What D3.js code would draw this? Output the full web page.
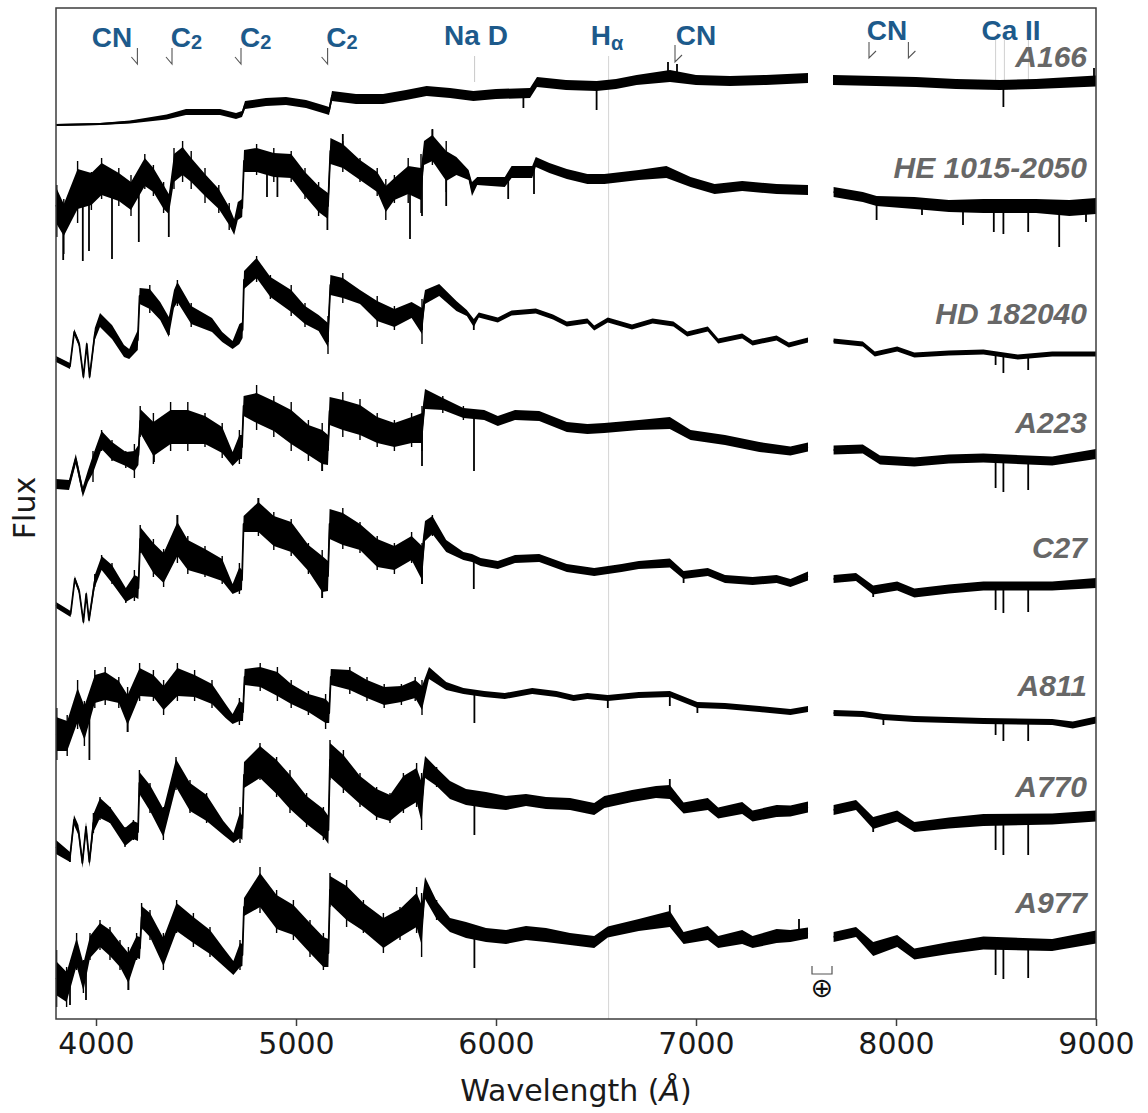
<!DOCTYPE html>
<html><head><meta charset="utf-8">
<script src="https://cdn.jsdelivr.net/npm/d3@7"></script>
<style>body{margin:0;background:#fff}</style>
</head><body><svg id="chart" width="1148" height="1113"></svg>
<script>
// ---------------- DATA ----------------
const xTicks = [4000, 5000, 6000, 7000, 8000, 9000];
const starNames = ["A166", "HE 1015-2050", "HD 182040", "A223", "C27", "A811", "A770", "A977"];
// label baseline, in (flux + offset) units
const starLabelFlux = [95.2, 84.1, 69.5, 58.6, 46.1, 32.3, 22.2, 10.6];

// each spectrum: [wavelength (Å), flux + offset, noise half-width]
const specA166 = [[3800,89.4,0.1],[4020,89.5,0.1],[4170,89.7,0.15],[4353,90.2,0.25],[4450,90.7,0.3],[4620,90.7,0.3],[4700,90.3,0.3],[4730,90.5,0.3],[4745,91.4,0.4],[4850,91.7,0.4],[4950,91.8,0.4],[5050,91.5,0.4],[5150,90.9,0.4],[5165,90.8,0.4],[5180,92.3,0.5],[5300,92.0,0.5],[5435,92.0,0.5],[5550,92.4,0.5],[5653,92.8,0.5],[5770,92.6,0.5],[5887,92.3,0.5],[6000,92.5,0.5],[6170,92.6,0.5],[6205,93.7,0.5],[6350,93.4,0.5],[6503,93.3,0.5],[6600,93.5,0.5],[6703,93.9,0.5],[6870,94.3,0.6],[7000,93.9,0.5],[7170,93.8,0.5],[7350,93.9,0.5],[7560,94.1,0.5],
  [7685,93.9,0.5],[7900,93.8,0.5],[8100,93.7,0.5],[8300,93.5,0.5],[8520,93.4,0.5],[8700,93.5,0.5],[9000,93.8,0.55]];
const specHE = [[3800,81.4,1.8],[3839,79.9,1.6],[3908,83.0,2.0],[3977,83.0,1.6],[4028,84.0,1.6],[4114,83.2,1.4],[4175,82.3,1.4],[4244,84.7,1.4],[4287,83.9,1.2],[4338,82.2,1.2],[4364,81.5,1.0],[4390,85.1,1.4],[4433,85.8,1.4],[4476,84.9,1.2],[4545,83.4,1.1],[4614,82.0,1.0],[4666,80.3,0.9],[4691,79.2,0.8],[4709,80.8,0.9],[4731,81.1,0.9],[4740,85.8,1.1],[4803,85.9,1.2],[4889,85.4,1.2],[4976,85.3,1.2],[5045,83.5,1.2],[5113,82.0,1.3],[5160,81.3,1.3],[5172,86.8,1.3],[5234,86.3,1.2],[5320,84.9,1.0],[5406,83.7,1.0],[5449,82.0,1.3],[5492,83.0,1.1],[5561,83.9,1.4],[5625,83.5,1.6],[5640,86.6,1.2],[5682,87.1,1.3],[5751,85.3,1.5],[5802,85.3,0.9],[5863,84.4,0.5],[5880,83.0,0.7],[5906,83.8,0.4],[6044,83.7,0.5],[6078,84.7,0.6],[6181,84.7,0.6],[6199,85.7,0.5],[6267,85.1,0.5],[6354,84.5,0.5],[6457,84.0,0.5],[6542,84.0,0.5],[6714,84.4,0.5],[6852,84.7,0.6],[6973,83.7,0.5],[7093,83.0,0.5],[7231,83.3,0.5],[7403,83.0,0.5],[7560,82.9,0.5],
  [7688,82.7,0.5],[7834,82.2,0.5],[7903,81.8,0.5],[8092,81.6,0.6],[8265,81.3,0.6],[8437,81.3,0.7],[8700,81.3,0.7],[8867,81.1,0.8],[9000,81.3,0.8]];
const specHD = [[3800,66.0,0.3],[3870,65.3,0.3],[3891,68.7,0.3],[3916,67.5,0.3],[3937,64.2,0.3],[3954,67.5,0.3],[3968,64.2,0.3],[3994,68.5,0.6],[4020,69.9,0.7],[4080,68.7,0.7],[4140,66.8,0.6],[4166,66.5,0.5],[4209,67.9,1.0],[4218,72.3,0.8],[4269,72.0,1.0],[4321,70.8,0.9],[4364,69.2,1.0],[4390,72.0,0.9],[4407,72.7,1.0],[4476,70.4,0.9],[4580,69.4,0.7],[4631,68.2,0.5],[4683,67.4,0.4],[4717,68.5,1.0],[4733,68.9,0.8],[4740,73.9,0.9],[4803,75.1,1.0],[4872,73.2,1.0],[4976,71.8,1.1],[5045,70.4,0.9],[5113,69.6,0.8],[5160,68.4,1.2],[5172,73.4,1.0],[5234,73.1,1.0],[5320,72.2,0.7],[5406,70.8,1.0],[5492,70.1,0.9],[5578,70.9,0.8],[5630,69.8,1.3],[5645,72.2,0.7],[5716,72.9,0.6],[5802,71.3,0.5],[5854,70.6,0.3],[5889,69.6,0.4],[5914,70.4,0.25],[6009,69.9,0.25],[6078,70.6,0.25],[6199,70.8,0.25],[6285,70.2,0.25],[6354,69.5,0.25],[6457,69.8,0.25],[6491,69.1,0.25],[6559,69.9,0.25],[6680,69.2,0.25],[6783,69.8,0.25],[6887,69.5,0.25],[6956,68.5,0.25],[7059,69.0,0.25],[7111,67.8,0.25],[7231,68.3,0.25],[7283,67.6,0.25],[7403,68.1,0.25],[7464,67.4,0.25],[7560,67.9,0.25],
  [7688,67.8,0.25],[7834,67.5,0.25],[7894,66.5,0.25],[8006,67.0,0.25],[8092,66.4,0.25],[8265,66.6,0.25],[8437,66.7,0.25],[8609,66.2,0.25],[8781,66.5,0.25],[9000,66.5,0.25]];
const specA223 = [[3800,53.5,0.5],[3865,53.4,0.5],[3899,56.0,0.5],[3934,52.7,0.5],[3960,54.3,0.6],[3985,55.5,0.9],[4028,57.9,0.9],[4080,56.8,0.9],[4149,56.0,0.7],[4192,55.8,1.0],[4212,56.4,1.0],[4221,59.8,1.2],[4287,58.0,1.7],[4373,59.2,1.7],[4459,59.2,1.7],[4545,58.9,1.4],[4631,57.9,1.3],[4683,56.0,0.7],[4717,57.2,1.2],[4730,57.2,1.2],[4738,61.3,1.0],[4803,61.1,1.5],[4889,60.3,1.5],[4976,59.2,1.7],[5062,57.9,1.5],[5131,57.2,1.7],[5160,56.9,1.5],[5168,60.8,1.4],[5234,60.4,1.5],[5320,59.9,1.5],[5406,58.9,1.3],[5492,58.4,1.2],[5578,58.9,1.3],[5630,59.1,1.5],[5645,62.0,1.0],[5734,61.5,0.6],[5837,60.6,0.5],[5941,60.4,0.5],[6009,59.8,0.5],[6095,60.4,0.5],[6216,60.3,0.5],[6354,59.2,0.5],[6457,59.0,0.5],[6542,59.1,0.5],[6714,59.4,0.5],[6869,59.6,0.6],[6973,58.4,0.5],[7145,57.9,0.5],[7317,57.2,0.5],[7472,56.8,0.45],[7560,57.2,0.45],
  [7688,56.9,0.45],[7834,57.0,0.45],[7920,55.9,0.45],[8092,55.7,0.45],[8265,56.0,0.45],[8437,56.1,0.45],[8781,55.8,0.45],[9000,56.5,0.5]];
const specC27 = [[3800,41.4,0.3],[3873,40.5,0.3],[3894,44.0,0.3],[3916,42.8,0.3],[3937,39.7,0.3],[3951,42.5,0.3],[3965,39.9,0.3],[3994,43.8,0.6],[4028,45.6,0.7],[4080,44.5,0.9],[4149,42.4,0.7],[4192,43.3,1.1],[4212,43.1,1.1],[4221,48.0,1.2],[4287,46.1,1.5],[4338,45.1,1.5],[4407,48.0,1.7],[4459,46.4,1.5],[4545,45.7,1.3],[4631,44.9,1.1],[4683,43.0,0.5],[4717,44.0,1.2],[4730,43.9,1.0],[4738,49.5,0.8],[4812,50.2,1.5],[4889,48.8,1.5],[4976,48.2,1.5],[5062,46.1,1.3],[5131,44.5,1.8],[5160,44.3,1.5],[5168,49.5,1.5],[5234,49.0,1.6],[5320,48.2,1.3],[5406,46.6,1.4],[5492,46.1,1.2],[5578,47.1,1.2],[5630,45.6,1.7],[5645,48.8,1.0],[5682,49.4,0.9],[5751,47.3,0.6],[5837,46.3,0.4],[5880,46.1,0.4],[5923,45.7,0.4],[6009,45.4,0.4],[6095,46.0,0.4],[6216,46.1,0.4],[6354,45.1,0.4],[6491,44.7,0.4],[6628,45.1,0.4],[6714,45.4,0.4],[6869,45.6,0.45],[6938,44.4,0.4],[7059,44.7,0.4],[7145,44.0,0.4],[7283,43.8,0.4],[7403,44.0,0.4],[7472,43.6,0.4],[7560,44.3,0.45],
  [7688,44.0,0.4],[7800,44.2,0.4],[7886,42.9,0.45],[8006,43.3,0.45],[8092,42.6,0.45],[8265,43.0,0.45],[8437,43.3,0.45],[8781,43.3,0.45],[9000,43.6,0.5]];
const specA811 = [[3800,28.5,1.7],[3856,28.3,1.5],[3908,31.4,1.7],[3942,29.6,1.7],[3994,33.0,1.4],[4046,33.3,1.4],[4114,32.7,1.1],[4158,30.9,1.5],[4218,33.7,1.4],[4287,33.3,1.1],[4338,32.1,1.2],[4407,33.7,1.4],[4493,33.3,1.1],[4580,32.5,1.0],[4648,30.8,0.7],[4683,30.0,0.5],[4717,30.8,1.0],[4735,30.7,0.9],[4743,34.2,0.8],[4821,34.2,1.0],[4907,33.5,1.2],[4976,32.5,1.0],[5062,31.6,0.9],[5148,30.8,1.2],[5166,30.6,1.0],[5174,34.2,0.8],[5269,33.9,1.0],[5355,33.0,0.9],[5441,32.3,0.9],[5527,32.5,0.8],[5596,33.0,0.9],[5630,32.1,1.2],[5665,34.6,0.6],[5751,33.3,0.4],[5837,32.8,0.3],[5941,32.5,0.3],[6044,32.3,0.3],[6181,32.8,0.3],[6302,32.5,0.3],[6388,32.1,0.3],[6457,32.3,0.3],[6559,32.1,0.3],[6714,32.4,0.3],[6869,32.5,0.3],[7007,31.4,0.3],[7145,31.3,0.3],[7317,31.0,0.3],[7472,30.7,0.3],[7560,31.0,0.3],
  [7688,30.6,0.3],[7834,30.5,0.3],[7937,30.2,0.3],[8092,30.0,0.3],[8265,29.9,0.3],[8437,29.8,0.3],[8781,29.7,0.3],[8884,29.4,0.35],[9000,29.9,0.35]];
const specA770 = [[3800,17.2,0.7],[3870,16.2,0.5],[3890,19.9,0.5],[3912,18.9,0.5],[3932,15.6,0.5],[3950,19.2,0.5],[3967,15.7,0.5],[3987,19.6,0.9],[4020,21.1,1.0],[4070,20.4,0.8],[4145,18.2,0.9],[4187,18.9,0.9],[4210,18.7,0.9],[4217,23.6,1.1],[4270,22.1,1.3],[4337,19.6,1.4],[4400,24.6,1.4],[4470,22.2,1.4],[4553,21.1,1.3],[4637,19.1,0.7],[4687,18.1,0.5],[4720,19.4,1.3],[4732,19.1,1.2],[4740,24.4,1.3],[4820,25.7,1.6],[4903,24.2,1.7],[4970,22.7,1.7],[5053,20.9,1.4],[5137,19.6,1.4],[5162,18.9,1.4],[5170,25.9,1.7],[5237,24.7,1.7],[5320,22.9,1.4],[5403,21.6,1.4],[5470,21.1,1.3],[5537,22.6,1.7],[5603,23.4,1.7],[5628,21.7,2.0],[5645,25.2,1.1],[5703,24.2,0.9],[5770,22.9,0.9],[5850,22.2,0.8],[5950,21.9,0.8],[6050,21.6,0.7],[6150,21.9,0.6],[6250,21.6,0.6],[6370,21.5,0.6],[6491,21.0,0.6],[6542,21.7,0.6],[6680,22.3,0.6],[6800,22.7,0.6],[6869,22.7,0.7],[6938,21.1,0.55],[7059,21.5,0.6],[7111,20.6,0.55],[7231,21.1,0.6],[7283,20.3,0.55],[7403,20.8,0.6],[7472,20.8,0.55],[7560,21.2,0.55],
  [7688,20.9,0.5],[7800,21.4,0.5],[7886,19.6,0.6],[8006,20.3,0.55],[8092,19.2,0.5],[8265,19.6,0.55],[8437,19.9,0.6],[8781,20.0,0.55],[9000,20.3,0.55]];
const specA977 = [[3800,4.1,1.7],[3853,3.2,1.5],[3903,6.7,1.4],[3937,4.2,1.4],[3970,7.2,1.1],[4020,8.4,1.2],[4070,7.6,1.3],[4120,6.4,1.2],[4162,5.1,1.5],[4203,7.2,1.1],[4220,7.1,1.1],[4228,10.2,1.1],[4270,9.4,1.2],[4337,6.7,1.4],[4403,10.2,1.4],[4487,8.9,1.3],[4570,7.7,1.2],[4637,6.2,0.9],[4687,5.1,0.7],[4720,6.4,1.2],[4732,6.4,1.1],[4740,11.2,0.9],[4820,12.9,1.7],[4903,10.7,1.7],[4987,9.9,1.5],[5070,8.1,1.5],[5137,6.7,1.5],[5162,6.6,1.4],[5170,12.9,1.4],[5253,11.6,1.7],[5337,10.2,1.4],[5437,8.6,1.5],[5520,9.6,1.4],[5603,10.9,1.7],[5628,9.4,2.0],[5645,13.1,1.1],[5703,10.9,0.9],[5770,9.4,0.7],[5850,8.9,0.8],[5950,8.4,0.7],[6050,8.2,0.7],[6150,8.6,0.7],[6250,8.4,0.7],[6370,8.0,0.6],[6491,7.7,0.6],[6559,8.7,0.55],[6714,9.4,0.6],[6869,10.0,0.8],[6938,8.1,0.6],[7059,8.6,0.7],[7111,7.7,0.6],[7231,8.2,0.7],[7283,7.7,0.6],[7403,8.3,0.7],[7472,8.3,0.6],[7560,8.6,0.55],
  [7688,8.2,0.5],[7800,8.7,0.5],[7886,7.0,0.7],[8006,7.8,0.6],[8092,6.5,0.55],[8265,7.1,0.6],[8437,7.6,0.65],[8781,7.4,0.6],[9000,8.2,0.65]];

// full noise extent read at selected wavelengths: [wavelength, lowest, highest]
const rangeHE = [[3804,78.2,83.4],[3839,76.5,82.0],[3908,79.6,85.8],[3977,80.9,84.7],[4028,82.0,86.1],[4114,81.3,85.1],[4175,80.3,84.4],[4244,83.0,86.5],[4287,82.3,85.4],[4338,80.6,83.7],[4390,83.0,87.1],[4433,83.7,87.8],[4476,83.0,86.8],[4545,81.6,85.1],[4614,80.6,83.4],[4666,78.9,81.6],[4803,84.4,87.5],[4889,83.7,87.1],[4976,83.7,86.8],[5045,82.0,85.1],[5113,80.3,83.7],[5234,84.7,87.8],[5320,83.7,86.1],[5406,82.3,85.1],[5449,79.9,84.0],[5492,81.6,84.4],[5561,81.6,86.1],[5625,80.6,86.5],[5682,85.4,88.9],[5751,82.7,87.8]];
const rangeHD = [[4269,70.6,73.4],[4407,71.3,73.9],[4476,69.2,71.6],[4803,73.7,76.3],[4872,72.0,74.4],[4976,70.3,73.4],[5045,69.2,71.6],[5160,66.5,70.3],[5234,71.6,74.6],[5406,69.2,72.3],[5492,68.9,71.3],[5630,67.5,72.0]];
const rangeA223 = [[3985,53.7,56.8],[4028,56.8,58.9],[4080,55.8,57.9],[4149,55.1,56.8],[4192,54.1,57.5],[4221,58.2,61.3],[4287,55.5,60.6],[4373,56.8,61.7],[4459,56.8,61.7],[4545,57.2,60.6],[4631,56.1,59.6],[4717,55.5,58.9],[4803,58.9,63.4],[4889,58.2,62.3],[4976,56.8,61.7],[5062,55.8,59.9],[5131,54.8,59.6],[5234,58.2,62.7],[5320,57.9,62.0],[5406,57.2,60.6],[5492,56.8,59.9],[5578,57.2,60.6],[5630,56.8,61.3],[5734,60.6,62.3],[5837,59.9,61.3]];
const rangeC27 = [[3994,43.2,44.5],[4028,44.9,46.4],[4080,43.5,45.6],[4149,41.6,43.1],[4192,41.8,44.9],[4221,46.6,49.4],[4287,44.2,48.0],[4338,43.2,47.0],[4407,45.6,50.4],[4459,44.5,48.3],[4545,44.2,47.3],[4631,43.5,46.3],[4717,42.5,45.6],[4812,48.3,52.1],[4889,46.9,50.7],[4976,46.3,50.0],[5062,44.5,47.6],[5131,42.1,46.9],[5234,47.0,51.1],[5320,46.6,49.7],[5406,44.9,48.3],[5492,44.5,47.6],[5578,45.6,48.7],[5630,43.5,47.6],[5682,48.3,50.4]];
const rangeA811 = [[3804,25.9,31.1],[3856,26.3,30.4],[3908,29.0,33.9],[3942,27.3,31.8],[3994,31.1,34.9],[4046,31.4,35.2],[4114,31.1,34.2],[4158,28.7,33.2],[4218,31.8,35.6],[4287,31.8,34.9],[4338,30.4,33.9],[4407,31.8,35.6],[4493,31.8,34.9],[4580,31.1,33.9],[4717,29.4,32.1],[4821,32.8,35.6],[4907,31.8,35.2],[4976,31.1,33.9],[5062,30.4,32.8],[5148,29.0,32.5],[5269,32.5,35.2],[5355,31.8,34.2],[5441,31.1,33.5],[5527,31.4,33.5],[5596,31.8,34.2],[5630,30.4,33.9]];
const rangeA770 = [[3987,18.6,20.6],[4020,19.9,22.2],[4070,19.6,21.2],[4145,17.2,19.2],[4187,17.9,19.9],[4217,22.2,24.9],[4270,20.6,23.6],[4337,17.9,21.2],[4400,22.9,26.2],[4470,20.6,23.9],[4553,19.6,22.6],[4720,17.6,21.2],[4820,23.9,27.6],[4903,22.2,26.2],[4970,20.6,24.9],[5053,19.2,22.6],[5137,17.9,21.2],[5170,23.9,27.9],[5237,22.6,26.9],[5320,21.2,24.6],[5403,19.9,23.2],[5470,19.6,22.6],[5537,20.6,24.6],[5603,21.2,25.6],[5628,18.9,24.6],[5703,23.2,25.2]];
const rangeA977 = [[3803,1.2,6.9],[3853,1.2,5.2],[3903,4.9,8.6],[3937,2.6,5.9],[3970,5.9,8.6],[4020,6.9,9.9],[4070,5.9,9.2],[4120,4.9,7.9],[4162,2.9,7.2],[4203,5.9,8.6],[4228,8.9,11.6],[4270,7.9,10.9],[4337,4.9,8.6],[4403,8.6,11.9],[4487,7.2,10.6],[4570,6.2,9.2],[4720,4.9,7.9],[4820,10.6,15.2],[4903,8.6,12.9],[4987,7.9,11.9],[5070,6.2,9.9],[5137,4.9,8.6],[5170,11.2,14.6],[5253,9.2,13.9],[5337,8.6,11.9],[5437,6.6,10.6],[5520,7.9,11.2],[5603,8.6,13.2],[5628,6.2,12.6],[5703,9.9,11.9]];

// narrow features (absorption lines / noise spikes): [wavelength, extreme flux + offset]
const spikesA166 = [[5150,90.6],[6137,91.1],[6503,90.9],[6860,95.7],[6905,95.5],[8537,91.2],[8990,95.1]];
const spikesHE = [[3836,75.9],[3934,75.8],[3965,76.8],[4080,76.0],[4214,77.7],[4364,78.2],[4855,82.2],[4907,82.2],[5157,78.9],[5234,88.5],[5570,78.0],[5630,80.3],[5682,89.0],[5751,81.3],[6061,82.0],[6190,82.5],[7903,79.9],[8130,80.4],[8335,79.4],[8489,78.7],[8537,78.5],[8661,78.7],[8816,77.2],[8950,79.7]];
const spikesHD = [[4364,68.4],[5160,67.7],[5630,68.9],[5889,68.9],[8498,65.4],[8537,64.6],[8661,64.9]];
const spikesA223 = [[4290,55.7],[5131,54.8],[5630,55.3],[5890,54.8],[8498,53.1],[8537,52.7],[8661,52.9]];
const spikesC27 = [[4407,50.4],[4812,52.1],[5131,42.1],[5630,43.5],[5889,43.0],[6938,43.6],[7886,42.2],[8498,40.9],[8537,40.6],[8661,40.7]];
const spikesA811 = [[3967,25.9],[4158,28.7],[5892,29.6],[6559,31.1],[6869,31.3],[7007,30.6],[7937,29.4],[8498,28.4],[8537,27.8],[8661,27.8]];
const spikesA770 = [[3870,15.7],[5892,18.4],[6869,24.0],[7886,18.7],[8498,16.9],[8537,16.4],[8661,16.4]];
const spikesA977 = [[3870,1.4],[3950,1.9],[4162,2.9],[5892,5.1],[6869,11.4],[7515,10.0],[8498,4.4],[8537,4.0],[8661,4.1]];

// band-head markers (wavelength) and feature labels
const bandheadsBlue = [4207, 4380, 4725, 5158];
const bandheadsRedMid = [6895];
const bandheadsRedFar = [7865, 8062];
const featureLabelsLeft = [["CN", 4080], ["C", 4452, "2"], ["C", 4798, "2"], ["C", 5230, "2"]];
const featureLabelsMid = [["Na D", 5900], ["H", 6555, "α"], ["CN", 7000]];
const featureLabelsRight = [["CN", 7955], ["Ca II", 8575]];
const naD = 5893, hAlpha = 6563, caII = [8498, 8542, 8662];
const telluric = [7580, 7680];

// ---------------- DRAW ----------------
const spectra = [
  [specA166, spikesA166, []], [specHE, spikesHE, rangeHE], [specHD, spikesHD, rangeHD], [specA223, spikesA223, rangeA223],
  [specC27, spikesC27, rangeC27], [specA811, spikesA811, rangeA811], [specA770, spikesA770, rangeA770], [specA977, spikesA977, rangeA977]
];
const svg = d3.select("#chart");
const x = d3.scaleLinear().domain([3800, 9000]).range([56, 1096]);
const y = d3.scaleLinear().domain([0, 101.1]).range([1019, 8]);
const blue = "#1d5a8b";

// reference lines (behind spectra)
svg.append("line").attr("x1", x(hAlpha)).attr("x2", x(hAlpha)).attr("y1", 56).attr("y2", 1019)
  .attr("stroke", "#d4d4d4").attr("stroke-width", 1);
svg.append("line").attr("x1", x(naD)).attr("x2", x(naD)).attr("y1", 56).attr("y2", 82)
  .attr("stroke", "#c8c8c8").attr("stroke-width", 1);
caII.forEach(w => svg.append("line").attr("x1", x(w)).attr("x2", x(w)).attr("y1", 40).attr("y2", 82)
  .attr("stroke", "#d0d0d0").attr("stroke-width", 1));

function centerAt(data, w) {
  const i = d3.bisector(d => d[0]).left(data, w);
  if (i <= 0) return data[0][1];
  if (i >= data.length) return data[data.length - 1][1];
  const a = data[i - 1], b = data[i];
  const t = (w - a[0]) / (b[0] - a[0]);
  return a[1] + t * (b[1] - a[1]);
}
const area = d3.area().x(d => x(d[0])).y0(d => y(d[1] - d[2])).y1(d => y(d[1] + d[2]));
const line = d3.line().x(d => x(d[0])).y(d => y(d[1]));
const gS = svg.append("g");
spectra.forEach(([data, spikes, ranges]) => {
  const segs = [data.filter(d => d[0] < 7620), data.filter(d => d[0] > 7620)];
  segs.forEach(seg => {
    gS.append("path").datum(seg).attr("d", area).attr("fill", "#000");
    gS.append("path").datum(seg).attr("d", line).attr("fill", "none").attr("stroke", "#000")
      .attr("stroke-width", 1.8).attr("stroke-linejoin", "round");
  });
  ranges.forEach(r => {
    gS.append("line").attr("x1", x(r[0])).attr("x2", x(r[0]))
      .attr("y1", y(r[1])).attr("y2", y(r[2]))
      .attr("stroke", "#000").attr("stroke-width", 1.4);
  });
  spikes.forEach(s => {
    gS.append("line").attr("x1", x(s[0])).attr("x2", x(s[0]))
      .attr("y1", y(centerAt(data, s[0]))).attr("y2", y(s[1]))
      .attr("stroke", "#000").attr("stroke-width", 1.8);
  });
});

// frame
svg.append("rect").attr("x", 56).attr("y", 8).attr("width", 1040).attr("height", 1011)
  .attr("fill", "none").attr("stroke", "#3c3c3c").attr("stroke-width", 1.5);

// x axis
const ax = svg.append("g").attr("transform", "translate(0,1019)")
  .call(d3.axisBottom(x).tickValues(xTicks).tickSize(7).tickPadding(7).tickFormat(d3.format("d")));
ax.select(".domain").remove();
ax.selectAll(".tick line").attr("stroke", "#3c3c3c").attr("stroke-width", 1.5);
ax.selectAll(".tick text").attr("font-family", "DejaVu Sans").attr("font-size", 30).attr("fill", "#1a1a1a");

const xl = svg.append("text").attr("x", 576).attr("y", 1101).attr("text-anchor", "middle")
  .attr("font-family", "DejaVu Sans").attr("font-size", 30).attr("fill", "#1a1a1a");
xl.append("tspan").text("Wavelength (");
xl.append("tspan").attr("font-style", "italic").text("Å");
xl.append("tspan").text(")");
svg.append("text").attr("transform", "translate(35,508) rotate(-90)").attr("text-anchor", "middle")
  .attr("font-family", "DejaVu Sans").attr("font-size", 30).attr("fill", "#1a1a1a").text("Flux");

// star names
starNames.forEach((n, i) => {
  svg.append("text").attr("x", x(8955)).attr("y", y(starLabelFlux[i])).attr("text-anchor", "end")
    .attr("font-family", "Liberation Sans").attr("font-weight", "bold").attr("font-style", "italic")
    .attr("font-size", 30).attr("fill", "#676767").text(n);
});

// feature labels
function drawLabels(list, base, subDy) {
  list.forEach(([t, w, sub]) => {
    const tx = svg.append("text").attr("x", x(w)).attr("y", base).attr("text-anchor", "middle")
      .attr("font-family", "Liberation Sans").attr("font-weight", "bold").attr("font-size", 28).attr("fill", blue);
    tx.append("tspan").text(t);
    if (sub) tx.append("tspan").attr("font-size", 20).attr("dy", subDy).text(sub);
  });
}
drawLabels(featureLabelsLeft, 47, 2);
drawLabels(featureLabelsMid, 45, 5);
drawLabels(featureLabelsRight, 39.5, 2);

// band-head markers
const mk = svg.append("g").attr("fill", "none").attr("stroke", "#555").attr("stroke-width", 1.1);
bandheadsBlue.forEach(w => {
  const px = x(w);
  mk.append("path").attr("d", `M${px},48 V64 L${px - 6},57`);
});
bandheadsRedMid.forEach(w => {
  const px = x(w);
  mk.append("path").attr("d", `M${px},45 V62 L${px + 7},55`);
});
bandheadsRedFar.forEach(w => {
  const px = x(w);
  mk.append("path").attr("d", `M${px},42 V58 L${px + 7},51`);
});

// telluric marker
const tx0 = x(telluric[0]), tx1 = x(telluric[1]);
svg.append("path").attr("d", `M${tx0},966 V974 H${tx1} V966`).attr("fill", "none")
  .attr("stroke", "#555").attr("stroke-width", 1.2);
svg.append("text").attr("x", (tx0 + tx1) / 2).attr("y", 997).attr("text-anchor", "middle")
  .attr("font-family", "DejaVu Sans").attr("font-size", 27).attr("fill", "#111").text("⊕");
</script>
</body></html>
